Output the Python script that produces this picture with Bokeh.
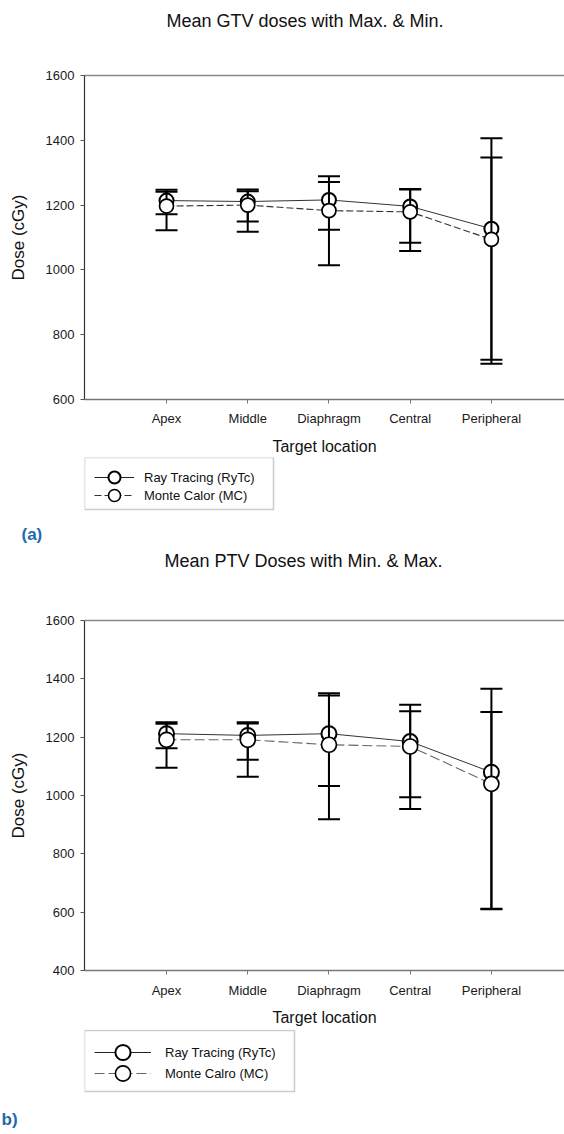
from bokeh.plotting import figure
from bokeh.models import (Legend, LegendItem, LinearAxis, FixedTicker, BoxAnnotation,
                          Range1d, ColumnDataSource)
from bokeh.layouts import column
from bokeh.embed import file_html
from bokeh.resources import INLINE

# ---------------- data ----------------
categories = ["Apex", "Middle", "Diaphragm", "Central", "Peripheral"]

# (a) GTV doses (cGy)
gtv_rytc_mean = [1214, 1211, 1216, 1196, 1127]
gtv_rytc_max = [1247, 1248, 1289, 1250, 1406]
gtv_rytc_min = [1172, 1149, 1124, 1084, 723]
gtv_mc_mean = [1197, 1200, 1183, 1179, 1094]
gtv_mc_max = [1241, 1243, 1271, 1248, 1347]
gtv_mc_min = [1122, 1118, 1014, 1058, 710]

# (b) PTV doses (cGy)
ptv_rytc_mean = [1212, 1206, 1212, 1185, 1080]
ptv_rytc_max = [1251, 1251, 1351, 1311, 1366]
ptv_rytc_min = [1162, 1123, 1033, 994, 612]
ptv_mc_mean = [1191, 1191, 1174, 1168, 1040]
ptv_mc_max = [1246, 1247, 1343, 1289, 1286]
ptv_mc_min = [1095, 1064, 919, 954, 610]

gtv_yticks = [600, 800, 1000, 1200, 1400, 1600]
ptv_yticks = [400, 600, 800, 1000, 1200, 1400, 1600]

FONT = "Liberation Sans"
W = 564
FL = 84
BLUE = "#1d6ab0"
XS = list(range(1, len(categories) + 1))


def style_fig(p):
    p.outline_line_color = None
    p.grid.visible = False
    p.background_fill_color = "white"
    p.border_fill_color = "white"


def chart(cfg):
    H, btop, fh = cfg["H"], cfg["btop"], cfg["fh"]
    p = figure(width=W, height=H, x_range=Range1d(-0.01, 5.9),
               y_range=Range1d(cfg["yticks"][0], cfg["yticks"][-1]),
               output_backend="svg", toolbar_location=None,
               min_border_left=FL, min_border_right=0, min_border_top=btop,
               min_border_bottom=H - btop - fh)
    style_fig(p)

    p.title.text = cfg["title"]
    p.title.align = "left"
    p.title.offset = cfg["title_offset"]
    p.title.standoff = 0
    p.title.text_font = FONT
    p.title.text_font_size = "18px"
    p.title.text_font_style = "normal"
    p.title.text_color = "#111111"

    xa = p.xaxis[0]
    xa.ticker = FixedTicker(ticks=XS)
    xa.major_label_overrides = {x: c for x, c in zip(XS, categories)}
    xa.axis_line_color = "#777777"
    xa.axis_line_width = 1.3
    xa.major_tick_line_color = "#777777"
    xa.major_tick_in = 0
    xa.major_tick_out = 4
    xa.minor_tick_line_color = None
    xa.major_label_text_font = FONT
    xa.major_label_text_font_size = "13px"
    xa.major_label_text_color = "#1a1a1a"
    xa.major_label_standoff = cfg["cat_standoff"]
    xa.axis_label = "Target location"
    xa.axis_label_text_font = FONT
    xa.axis_label_text_font_size = "16px"
    xa.axis_label_text_font_style = "normal"
    xa.axis_label_text_color = "#111111"
    xa.axis_label_standoff = cfg["xlab_standoff"]

    ya = p.yaxis[0]
    ya.ticker = FixedTicker(ticks=cfg["yticks"])
    ya.axis_line_color = "#333333"
    ya.axis_line_width = 1.2
    ya.major_tick_line_color = "#555555"
    ya.major_tick_in = 0
    ya.major_tick_out = 4
    ya.minor_tick_line_color = None
    ya.major_label_text_font = FONT
    ya.major_label_text_font_size = "13px"
    ya.major_label_text_color = "#1a1a1a"
    ya.major_label_standoff = 6
    ya.axis_label = "Dose (cGy)"
    ya.axis_label_text_font = FONT
    ya.axis_label_text_font_size = "17px"
    ya.axis_label_text_font_style = "normal"
    ya.axis_label_text_color = "#111111"
    ya.axis_label_standoff = 15

    # top frame line; its (invisible) label only adds room between title and frame
    top = LinearAxis(ticker=FixedTicker(ticks=[]), axis_line_color="#888888",
                     axis_line_width=1.3, major_tick_line_color=None,
                     minor_tick_line_color=None, major_label_text_font_size="0px",
                     axis_label="\u00a0", axis_label_text_font_size="1px",
                     axis_label_standoff=cfg["top_gap"])
    p.add_layout(top, "above")

    r = cfg["rytc"]
    m = cfg["mc"]
    rs = ColumnDataSource(dict(x=XS, mean=r[0], hi=r[1], lo=r[2]))
    ms = ColumnDataSource(dict(x=XS, mean=m[0], hi=m[1], lo=m[2]))

    p.line("x", "mean", source=rs, line_color="#333333", line_width=1)
    p.line("x", "mean", source=ms, line_color=cfg["mc_color"], line_width=1.1,
           line_dash=cfg["dash"])

    def errbars(src):
        p.segment(x0="x", y0="lo", x1="x", y1="hi", source=src, line_color="black", line_width=2)
        p.scatter("x", "hi", source=src, marker="dash", size=22, line_color="black", line_width=2)
        p.scatter("x", "lo", source=src, marker="dash", size=22, line_color="black", line_width=2)

    errbars(rs)
    p.scatter("x", "mean", source=rs, marker="circle", size=cfg["msize"],
              fill_color="white", line_color="black", line_width=2)
    errbars(ms)
    p.scatter("x", "mean", source=ms, marker="circle", size=cfg["msize"],
              fill_color="white", line_color="black", line_width=1.7)
    return p


def legend_fig(cfg):
    H = cfg["H"]
    p = figure(width=W, height=H, x_range=Range1d(0, 1), y_range=Range1d(0, 1),
               output_backend="svg", toolbar_location=None,
               x_axis_type=None, y_axis_type=None, title_location="below",
               min_border_left=FL, min_border_right=0, min_border_top=0,
               min_border_bottom=cfg["bb"])
    style_fig(p)
    # the series again, outside this strip's ranges: they only feed the legend keys
    rsrc = ColumnDataSource(dict(x=XS, y=cfg["rytc_mean"]))
    msrc = ColumnDataSource(dict(x=XS, y=cfg["mc_mean"]))
    rl = p.line("x", "y", source=rsrc, line_color="#222222", line_width=1)
    rc = p.scatter("x", "y", source=rsrc, marker="circle",
                   fill_color="white", line_color="black", line_width=2)
    ml = p.line("x", "y", source=msrc, line_color=cfg["mc_color"], line_width=1.1,
                line_dash=cfg["dash"])
    mc = p.scatter("x", "y", source=msrc, marker="circle",
                   fill_color="white", line_color="black", line_width=1.6)
    lg = cfg["legend"]

    bx = lg["box"]
    p.add_layout(BoxAnnotation(left=bx[0], right=bx[1], bottom=bx[2], top=bx[3],
                               left_units="screen", right_units="screen",
                               bottom_units="screen", top_units="screen",
                               fill_color=None, fill_alpha=0,
                               line_color="#555555", line_width=1.5))

    for label, rends, vy in ((cfg["labels"][0], [rl, rc], lg["y1"]),
                             (cfg["labels"][1], [ml, mc], lg["y2"])):
        p.add_layout(Legend(items=[LegendItem(label=label, renderers=rends)],
                            location=(lg["x"], vy), orientation="vertical", margin=0,
                            border_line_color=None, background_fill_alpha=0,
                            label_text_font=FONT, label_text_font_size="13px",
                            label_text_color="#111111",
                            glyph_width=lg["gw"], glyph_height=lg["gh"],
                            label_height=lg["gh"], padding=0, spacing=0,
                            label_standoff=lg["so"]))

    p.title.text = cfg["tag"]
    p.title.align = "left"
    p.title.offset = cfg["tag_x"] - FL
    p.title.text_font = FONT
    p.title.text_font_size = "17px"
    p.title.text_font_style = "bold"
    p.title.text_color = BLUE
    return p


a1 = chart(dict(H=457, btop=75, fh=326, yticks=gtv_yticks,
                rytc=(gtv_rytc_mean, gtv_rytc_max, gtv_rytc_min),
                mc=(gtv_mc_mean, gtv_mc_max, gtv_mc_min),
                mc_color="#333333", dash="7 3", msize=14, cat_standoff=7, xlab_standoff=9,
                title="Mean GTV doses with Max. & Min.", title_offset=82, top_gap=41))
a2 = legend_fig(dict(H=91, bb=30, mc_color="#333333", dash="7 3",
                     rytc_mean=gtv_rytc_mean, mc_mean=gtv_mc_mean,
                     labels=("Ray Tracing (RyTc)", "Monte Calor (MC)"),
                     legend=dict(x=10, y1=25, y2=7, gw=40, gh=30, so=10,
                                 box=(0, 189, 8, 60)),
                     tag="(a)", tag_x=21))

b1 = chart(dict(H=481, btop=72, fh=350, yticks=ptv_yticks,
                rytc=(ptv_rytc_mean, ptv_rytc_max, ptv_rytc_min),
                mc=(ptv_mc_mean, ptv_mc_max, ptv_mc_min),
                mc_color="#666666", dash="10 4", msize=15, cat_standoff=8, xlab_standoff=8,
                title="Mean PTV  Doses with Min. & Max.", title_offset=80, top_gap=46))
b2 = legend_fig(dict(H=105, bb=32, mc_color="#666666", dash="10 4",
                     rytc_mean=ptv_rytc_mean, mc_mean=ptv_mc_mean,
                     labels=("Ray Tracing (RyTc)", "Monte Calro (MC)"),
                     legend=dict(x=10, y1=31, y2=10, gw=57, gh=38, so=14,
                                 box=(0, 210, 11, 72)),
                     tag="b)", tag_x=1))

layout = column(a1, a2, b1, b2, spacing=0)
open("out.html", "w").write(file_html(layout, INLINE))
